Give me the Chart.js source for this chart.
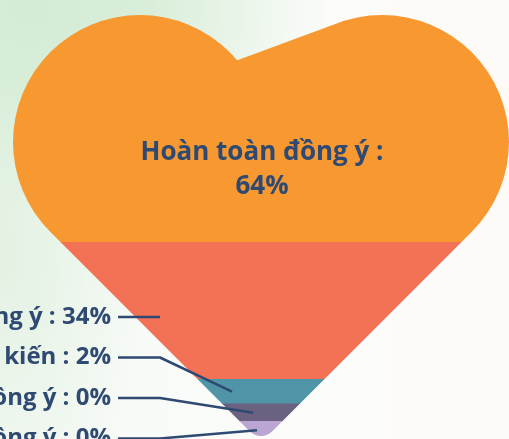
<!DOCTYPE html>
<html lang="vi">
<head>
<meta charset="utf-8">
<title>Mức độ đồng ý</title>
<script src="https://cdn.jsdelivr.net/npm/chart.js@4.4.1/dist/chart.umd.min.js"></script>
<style>
  html, body { margin: 0; padding: 0; }
  body {
    width: 509px;
    height: 439px;
    overflow: hidden;
    background:
      radial-gradient(ellipse 300px 210px at 30px 10px, #d3ebd6 0%, #d9eed9 40%, rgba(232,244,232,0) 100%),
      radial-gradient(ellipse 150px 280px at 0px 250px, #e2f1e2 0%, rgba(240,247,240,0) 100%),
      linear-gradient(90deg, #f4f9f3 0%, #fbfcfa 55%, #fdfaf8 100%);
  }
  #wrap { position: relative; width: 509px; height: 439px; }
</style>
</head>
<body>
<div id="wrap"><canvas id="heartChart"></canvas></div>
<script>
// bands from the top of the heart down to the tip
var labels = ["Hoàn toàn đồng ý", "Đồng ý", "Không ý kiến", "Không đồng ý", "Hoàn toàn không đồng ý"];
var values = [64, 34, 2, 0, 0];
var colors = ["#f79831", "#f37155", "#4f95a7", "#6b6180", "#bba5d2"];
// each band keeps a small extra share so the 0% rows stay visible near the tip
var minShare = 5;

var textColor = "#2e4a72";
var titleFont = "bold 26px 'Open Sans', 'Noto Sans', sans-serif";
var labelFont = "bold 24px 'Open Sans', 'Noto Sans', sans-serif";

// heart outline: two lobes, tangent sides, rounded tip
var lobeL = { x: 140, y: 142 }, lobeR = { x: 382, y: 142 }, lobeRad = 127;
var s = lobeRad / Math.SQRT2;
var tip = { x: (lobeL.x + lobeR.x) / 2, y: lobeL.y + s + (lobeR.x - lobeL.x + 2 * s) / 2 };

function heartPath(ctx) {
  var r = lobeRad;
  ctx.beginPath();
  ctx.moveTo(lobeL.x + r, lobeL.y);
  ctx.arc(lobeL.x, lobeL.y, r, 0, Math.PI * 2);
  ctx.moveTo(lobeR.x + r, lobeR.y);
  ctx.arc(lobeR.x, lobeR.y, r, 0, Math.PI * 2);
  ctx.moveTo(lobeL.x, lobeL.y);
  ctx.lineTo(lobeR.x, lobeR.y);
  ctx.lineTo(lobeR.x + s, lobeR.y + s);
  ctx.arcTo(tip.x, tip.y, lobeL.x - s, lobeL.y + s, 16);
  ctx.lineTo(lobeL.x - s, lobeL.y + s);
  ctx.closePath();
  // fill the notch between the lobes
  var a1 = -40 * Math.PI / 180, a2 = -107 * Math.PI / 180;
  ctx.moveTo(lobeL.x + r * Math.cos(a1), lobeL.y + r * Math.sin(a1));
  ctx.lineTo(lobeR.x + r * Math.cos(a2), lobeR.y + r * Math.sin(a2));
  ctx.lineTo(lobeR.x, lobeR.y);
  ctx.lineTo(lobeL.x, lobeL.y);
  ctx.closePath();
}

function leftEdgeX(y) {
  return y - (lobeL.y + s) + (lobeL.x - s);
}

var heartPlugin = {
  id: "heart",
  beforeDatasetsDraw: function (chart) {
    var ctx = chart.ctx;
    ctx.save();
    heartPath(ctx);
    ctx.clip();
  },
  afterDatasetsDraw: function (chart) {
    var ctx = chart.ctx;
    ctx.restore();
    ctx.save();
    ctx.fillStyle = textColor;
    ctx.textBaseline = "middle";

    // main label inside the top band
    ctx.font = titleFont;
    ctx.textAlign = "center";
    ctx.fillText(labels[0] + " :", 262, 153);
    ctx.fillText(values[0] + "%", 262, 187);

    // side labels with leader lines into their bands
    ctx.font = labelFont;
    ctx.textAlign = "right";
    ctx.strokeStyle = textColor;
    ctx.lineWidth = 2.5;
    ctx.lineJoin = "round";
    for (var i = 1; i < labels.length; i++) {
      var ty = 317 + (i - 1) * 40.5;
      ctx.fillText(labels[i] + " : " + values[i] + "%", 111, ty);
      var ds = chart.data.datasets.length - 1 - i;
      var bar = chart.getDatasetMeta(ds).data[0];
      var ey = (bar.y + bar.base) / 2;
      // tall bands take the line straight across
      if (bar.base - bar.y > 40 && ty > bar.y && ty < bar.base) ey = ty;
      var ex = Math.min(leftEdgeX(ey) + 22, tip.x - 4);
      ex = Math.max(ex, 160);
      ctx.beginPath();
      ctx.moveTo(118, ty);
      ctx.lineTo(160, ty);
      ctx.lineTo(ex, ey);
      ctx.stroke();
    }
    ctx.restore();
  }
};

// stacked bottom-up: the last band sits at the tip
var datasets = [];
for (var i = labels.length - 1; i >= 0; i--) {
  datasets.push({
    label: labels[i],
    data: [values[i] + minShare],
    backgroundColor: colors[i],
    borderWidth: 0,
    barPercentage: 1,
    categoryPercentage: 1
  });
}
var total = values.reduce(function (a, b) { return a + b; }, 0) + minShare * values.length;

new Chart("heartChart", {
  type: "bar",
  data: { labels: [""], datasets: datasets },
  options: {
    responsive: true,
    maintainAspectRatio: false,
    animation: false,
    layout: { padding: 0 },
    plugins: { legend: { display: false }, tooltip: { enabled: false } },
    scales: {
      x: { stacked: true, display: false },
      y: { stacked: true, display: false, min: 0, max: total }
    }
  },
  plugins: [heartPlugin]
});
</script>
</body>
</html>
